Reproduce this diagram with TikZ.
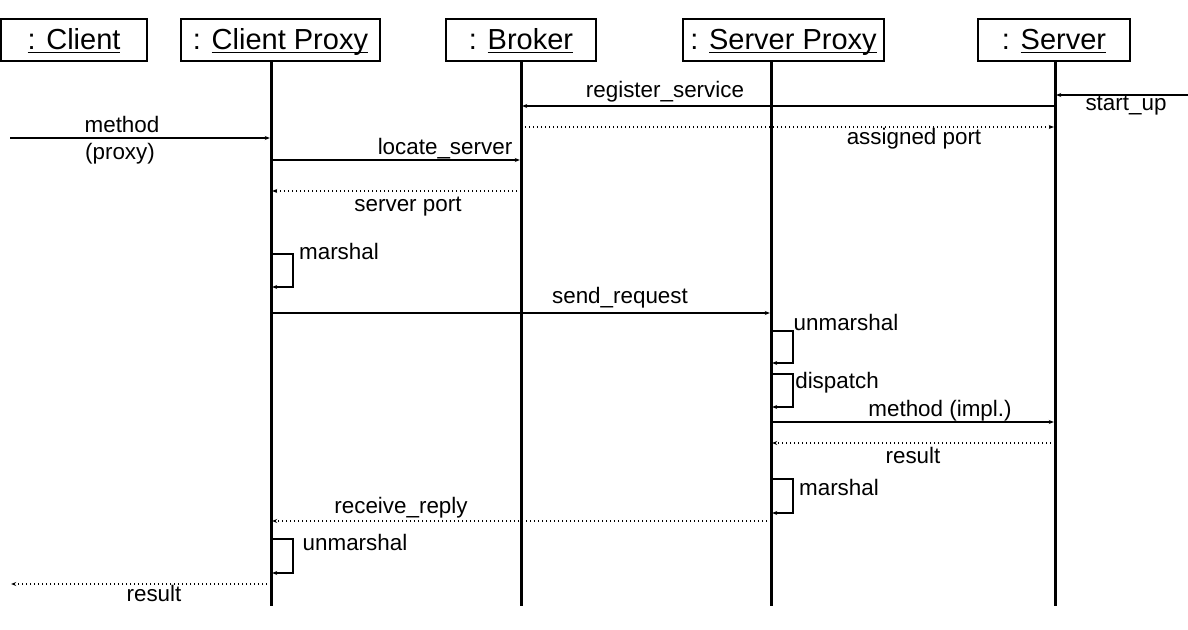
\documentclass[tikz,border=0pt]{standalone}
\usepackage{fontspec}
\setmainfont{Liberation Sans}
\usetikzlibrary{arrows.meta}
\tikzset{
	obj/.style={draw, line width=0.7pt, minimum height=21pt, inner sep=0pt, text height=12pt, text depth=2.5pt, font=\fontsize{14.5}{17}\selectfont},
	life/.style={line width=1.5pt},
	msg/.style={line width=0.65pt, shorten >=0.6pt, -{Stealth[length=2.5pt,width=2pt]}},
	reply/.style={msg, dash pattern=on 0.6pt off 1.4pt},
	lbl/.style={anchor=base, inner sep=0pt, font=\fontsize{11.2}{13}\selectfont}
}
\def\uln#1{\setbox0\hbox{#1}\rlap{\vrule width\wd0 height -1.1pt depth 1.8pt}\box0}
\def\selfcall(#1)(#2:#3){\draw[msg] (#1 |- 0,#2) -- ++(22,0) |- (#1 |- 0,#3);}

\begin{document}
\begin{tikzpicture}[x=0.5pt,y=-0.5pt]
			%%%%% START %%%%%
			\useasboundingbox (0,0) rectangle (1188,630);
			
			\node[obj, minimum width=73pt] (client) at (74,40) {\uln{: Client}};
			\node[obj, minimum width=99.5pt] (cproxy) at (280.5,40) {: \uln{Client Proxy}};
			\node[obj, minimum width=75pt] (broker) at (521,40) {: \uln{Broker}};
			\node[obj, minimum width=100.5pt] (sproxy) at (783.5,40) {: \uln{Server Proxy}};
			\node[obj, minimum width=76pt] (server) at (1054,40) {: \uln{Server}};
			
			\coordinate (cpl) at (271,61);
			\coordinate (brl) at (521,61);
			\coordinate (spl) at (771,61);
			\coordinate (svl) at (1055,61);
			\coordinate (end) at (0,606);
			
			\coordinate (startup) at (1188,95);
			\coordinate (register) at (0,106);
			\coordinate (assigned) at (0,127);
			\coordinate (call) at (10,138);
			\coordinate (locate) at (0,160);
			\coordinate (port) at (0,191);
			\coordinate (send) at (0,313);
			\coordinate (impl) at (0,422);
			\coordinate (result) at (0,443);
			\coordinate (reply) at (0,521);
			\coordinate (back) at (10,584);
			
			\draw[msg] (svl |- register) -- (brl |- register);
			\draw[msg] (startup) -- (svl |- startup);
			\draw[reply] (brl |- assigned) -- (svl |- assigned);
			\draw[msg] (call) -- (cpl |- call);
			\draw[msg] (cpl |- locate) -- (brl |- locate);
			\draw[reply] (brl |- port) -- (cpl |- port);
			\selfcall(cpl)(254:287)
			\draw[msg] (cpl |- send) -- (spl |- send);
			\selfcall(spl)(331:363)
			\selfcall(spl)(374:407)
			\draw[msg] (spl |- impl) -- (svl |- impl);
			\draw[reply] (svl |- result) -- (spl |- result);
			\selfcall(spl)(479:513)
			\draw[reply] (spl |- reply) -- (cpl |- reply);
			\selfcall(cpl)(539:573)
			\draw[reply] (cpl |- back) -- (back);
			
			\draw[life] (cpl) -- (cpl |- end);
			\draw[life] (brl) -- (brl |- end);
			\draw[life] (spl) -- (spl |- end);
			\draw[life] (svl) -- (svl |- end);
			
			\node[lbl] (t-reg) at (665,98) {register\_service};
			\node[lbl] (t-start) at (1126,111) {start\_up};
			\node[lbl] (t-assign) at (914,145) {assigned port};
			\node[lbl] (t-meth) at (122,133) {method};
			\node[lbl] (t-proxy) at (120,160) {(proxy)};
			\node[lbl] (t-locate) at (445,155) {locate\_server};
			\node[lbl] (t-port) at (408,212) {server port};
			\node[lbl] (t-marsh1) at (339,260) {marshal};
			\node[lbl] (t-send) at (620,304) {send\_request};
			\node[lbl] (t-unm1) at (846,331) {unmarshal};
			\node[lbl] (t-disp) at (837,388) {dispatch};
			\node[lbl] (t-impl) at (940,416) {method (impl.)};
			\node[lbl] (t-res1) at (913,463) {result};
			\node[lbl] (t-marsh2) at (839,495) {marshal};
			\node[lbl] (t-recv) at (401,513) {receive\_reply};
			\node[lbl] (t-unm2) at (355,550) {unmarshal};
			\node[lbl] (t-res2) at (154,601) {result};
			
			%%%%% END %%%%%
\end{tikzpicture}
\end{document}
